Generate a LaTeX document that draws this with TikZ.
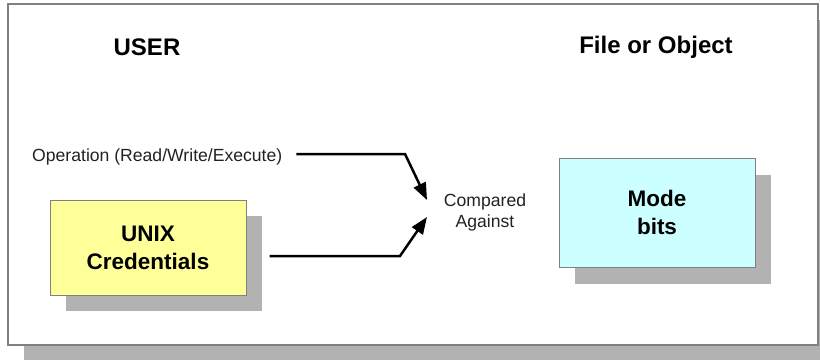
\documentclass[tikz,border=0pt]{standalone}
\usepackage{fontspec}
\setmainfont{Liberation Sans}
\usetikzlibrary{arrows.meta,calc}
\definecolor{shadowgray}{HTML}{B2B2B2}
\definecolor{framegray}{HTML}{808080}
\definecolor{boxyellow}{HTML}{FFFF99}
\definecolor{boxcyan}{HTML}{CCFFFF}
\definecolor{textdark}{HTML}{222222}
\begin{document}
\begin{tikzpicture}[x=1pt,y=-1pt,
  titletext/.style={font=\fontsize{24}{28}\selectfont\bfseries, inner sep=0pt, text=black},
  labeltext/.style={font=\fontsize{17.6}{21}\selectfont, inner sep=0pt, text=textdark, align=center},
  boxbase/.style={draw=framegray, line width=1pt, minimum width=196pt, inner sep=0pt,
     align=center, font=\fontsize{22.5}{28}\selectfont\bfseries, text=black},
  ybox/.style={boxbase, fill=boxyellow, minimum height=95pt},
  cbox/.style={boxbase, fill=boxcyan, minimum height=109pt},
  shadowfill/.style={fill=shadowgray},
  arr/.style={line width=2.5pt, -{Triangle[length=17pt,width=13pt]}}
]
\useasboundingbox (0,0) rectangle (820,360);
% outer frame and its shadow
\fill[shadowfill] (24,20) rectangle (820,360);
\draw[draw=framegray, line width=1.5pt, fill=white] (8,4) rectangle (818,345);
% titles
\node[titletext] (user) at (147,47) {USER};
\node[titletext] (fileobj) at (656,47) {File or Object};
% box shadows
\fill[shadowfill] (66,216) rectangle (262,311);
\fill[shadowfill] (575,175) rectangle (771,284);
% boxes
\node[ybox] (unix) at (148,247.5) {UNIX\\Credentials};
\node[cbox] (mode) at (657,212.5) {Mode\\bits};
% labels
\node[labeltext, anchor=west] (op) at (32,157) {Operation (Read/Write/Execute)};
\node[labeltext] (cmp) at (485,212.5) {Compared\\Against};
% connectors
\coordinate (b1) at (405,154);
\coordinate (t1) at (427,200);
\coordinate (b2) at (400,256);
\coordinate (t2) at (427,217);
\draw[arr] ($(op.east)+(14,-3)$) -- (b1) -- (t1);
\draw[arr] ($(unix.east)+(23,8.5)$) -- (b2) -- (t2);
\end{tikzpicture}
\end{document}
